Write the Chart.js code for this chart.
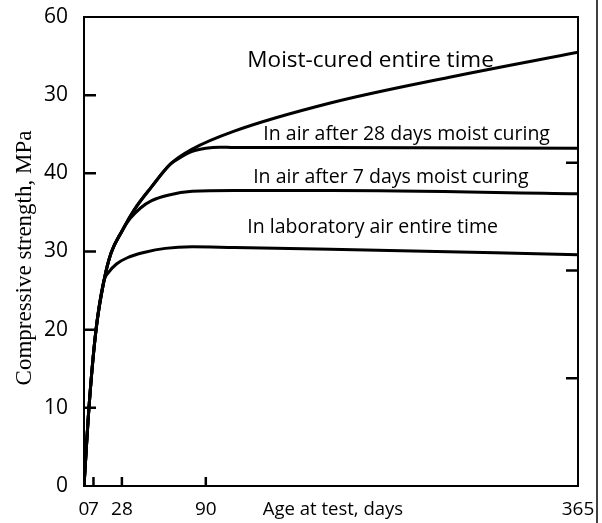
<!DOCTYPE html>
<html>
<head>
<meta charset="utf-8">
<script src="https://cdn.jsdelivr.net/npm/chart.js@4/dist/chart.umd.min.js"></script>
<style>
  html, body { margin: 0; padding: 0; background: #fff; }
  #wrap { width: 602px; height: 523px; position: relative; }
</style>
</head>
<body>
<div id="wrap"><canvas id="strengthChart"></canvas></div>
<script>
// values: age in days, strength in MPa
const moistDays = [0, 3.7, 8.9, 14.8, 20, 28, 37, 49.6, 64, 80, 111, 182, 270, 365];
const moistMPa  = [0, 10.1, 20.0, 26.3, 29.8, 32.6, 35.3, 38.2, 41.2, 43.1, 45.4, 49.0, 52.3, 55.5];

const air28Days = [0, 3.7, 8.9, 14.8, 20, 28, 37, 49.6, 64, 70, 80, 90, 100, 111, 182, 365];
const air28MPa  = [0, 10.1, 20.0, 26.3, 29.8, 32.6, 35.3, 38.2, 41.2, 41.9, 42.8, 43.2, 43.35, 43.3, 43.3, 43.2];

const air7Days = [0, 3.7, 8.9, 14.8, 20, 28, 34, 42, 50, 62, 80, 111, 182, 365];
const air7MPa  = [0, 10.1, 20.0, 26.3, 29.8, 32.6, 34.2, 35.6, 36.5, 37.2, 37.7, 37.8, 37.8, 37.4];

const labDays = [0, 3.7, 8.9, 14.8, 18, 24, 32, 45, 60, 80, 111, 182, 365];
const labMPa  = [0, 10.1, 20.0, 26.3, 27.3, 28.4, 29.2, 29.9, 30.4, 30.6, 30.5, 30.3, 29.6];

const seriesNames = [
  "Moist-cured entire time",
  "In air after 28 days moist curing",
  "In air after 7 days moist curing",
  "In laboratory air entire time",
];

const xTickDays = [0, 7, 28, 90, 365];
const xTickLabels = ["0", "7", "28", "90", "365"];
const yTickValues = [0, 10, 20, 30, 40, 50, 60];
const yTickLabels = ["0", "10", "20", "30", "40", "30", "60"]; // as printed on the figure
const psiTicks = [2000, 4000, 6000];

const toPoints = (xs, ys) => xs.map((x, i) => ({ x: x, y: ys[i] }));

// where each curve name sits (days, MPa of the text baseline) and its size
const nameSpots = [[120.7, 53.6], [132.5, 44.3], [125, 38.8], [120.7, 32.4]];
const nameSizes = [22.5, 19.5, 19.5, 19.5];

const decorations = {
  id: "decorations",
  afterDraw(chart) {
    const { ctx, chartArea: a, scales } = chart;
    ctx.save();
    ctx.strokeStyle = "#000";
    ctx.fillStyle = "#000";

    // plot frame
    ctx.lineWidth = 2;
    ctx.strokeRect(a.left, a.top, a.right - a.left, a.bottom - a.top);

    // inward tick marks
    ctx.lineWidth = 2.5;
    ctx.beginPath();
    scales.y.ticks.forEach((t) => {
      if (t.value <= 0 || t.value >= 60) return;
      const py = scales.y.getPixelForValue(t.value);
      ctx.moveTo(a.left, py);
      ctx.lineTo(a.left + 12, py);
    });
    scales.x.ticks.forEach((t) => {
      if (t.value <= 0 || t.value >= 365) return;
      const px = scales.x.getPixelForValue(t.value);
      ctx.moveTo(px, a.bottom);
      ctx.lineTo(px, a.bottom - 9);
    });
    scales.y2.ticks.forEach((t) => {
      const py = scales.y2.getPixelForValue(t.value);
      ctx.moveTo(a.right, py);
      ctx.lineTo(a.right - 12, py);
    });
    ctx.stroke();

    // curve names
    ctx.textAlign = "left";
    ctx.textBaseline = "alphabetic";
    seriesNames.forEach((name, i) => {
      const [d, m] = nameSpots[i];
      ctx.font = nameSizes[i] + "px 'Open Sans'";
      ctx.fillText(name, scales.x.getPixelForValue(d), scales.y.getPixelForValue(m));
    });

    // axis titles
    ctx.font = "18.5px 'Open Sans'";
    ctx.textAlign = "center";
    ctx.textBaseline = "middle";
    ctx.fillText("Age at test, days", (a.left + a.right) / 2 + 2, 510);

    ctx.save();
    ctx.translate(25, 258);
    ctx.rotate(-Math.PI / 2);
    ctx.font = "23px 'Liberation Serif'";
    ctx.fillText("Compressive strength, MPa", 0, 0);
    ctx.restore();

    // scan border on the right
    ctx.lineWidth = 1.5;
    ctx.beginPath();
    ctx.moveTo(597, 0);
    ctx.lineTo(597, chart.height);
    ctx.stroke();
    ctx.restore();
  },
};

const lineStyle = {
  borderColor: "#000",
  borderWidth: 3,
  pointRadius: 0,
  fill: false,
  cubicInterpolationMode: "monotone",
};

new Chart(document.getElementById("strengthChart"), {
  type: "line",
  data: {
    datasets: [
      { label: seriesNames[0], data: toPoints(moistDays, moistMPa), ...lineStyle },
      { label: seriesNames[1], data: toPoints(air28Days, air28MPa), ...lineStyle },
      { label: seriesNames[2], data: toPoints(air7Days, air7MPa), ...lineStyle },
      { label: seriesNames[3], data: toPoints(labDays, labMPa), ...lineStyle },
    ],
  },
  options: {
    responsive: true,
    maintainAspectRatio: false,
    animation: false,
    layout: { padding: { top: 17, left: 0, right: 0, bottom: 0 } },
    plugins: {
      legend: { display: false },
      tooltip: { enabled: false },
    },
    scales: {
      x: {
        type: "linear",
        min: 0,
        max: 365,
        afterBuildTicks: (s) => { s.ticks = xTickDays.map((v) => ({ value: v })); },
        afterFit: (s) => {
          s.height = 37;
          s.paddingLeft = 0;
          s.paddingRight = 0;
        },
        grid: { display: false, drawTicks: false },
        border: { display: false },
        ticks: {
          autoSkip: false,
          maxRotation: 0,
          padding: 2,
          color: "#000",
          font: { family: "Open Sans", size: 19, lineHeight: 2.3 },
          callback: (v) => xTickLabels[xTickDays.indexOf(v)],
        },
      },
      y: {
        min: 0,
        max: 60,
        afterBuildTicks: (s) => { s.ticks = yTickValues.map((v) => ({ value: v })); },
        afterFit: (s) => {
          s.width = 84;
          s.paddingTop = 0;
          s.paddingBottom = 0;
        },
        grid: { display: false, drawTicks: false },
        border: { display: false },
        ticks: {
          padding: 16,
          color: "#000",
          font: { family: "Open Sans", size: 21 },
          callback: (v) => yTickLabels[yTickValues.indexOf(v)],
        },
      },
      y2: {
        position: "right",
        min: 0,
        max: 60 * 145.038, // same span in psi
        afterBuildTicks: (s) => { s.ticks = psiTicks.map((v) => ({ value: v })); },
        afterFit: (s) => {
          s.width = 24;
          s.paddingTop = 0;
          s.paddingBottom = 0;
        },
        grid: { display: false, drawTicks: false },
        border: { display: false },
        ticks: { display: false },
      },
    },
  },
  plugins: [decorations],
});
</script>
</body>
</html>
